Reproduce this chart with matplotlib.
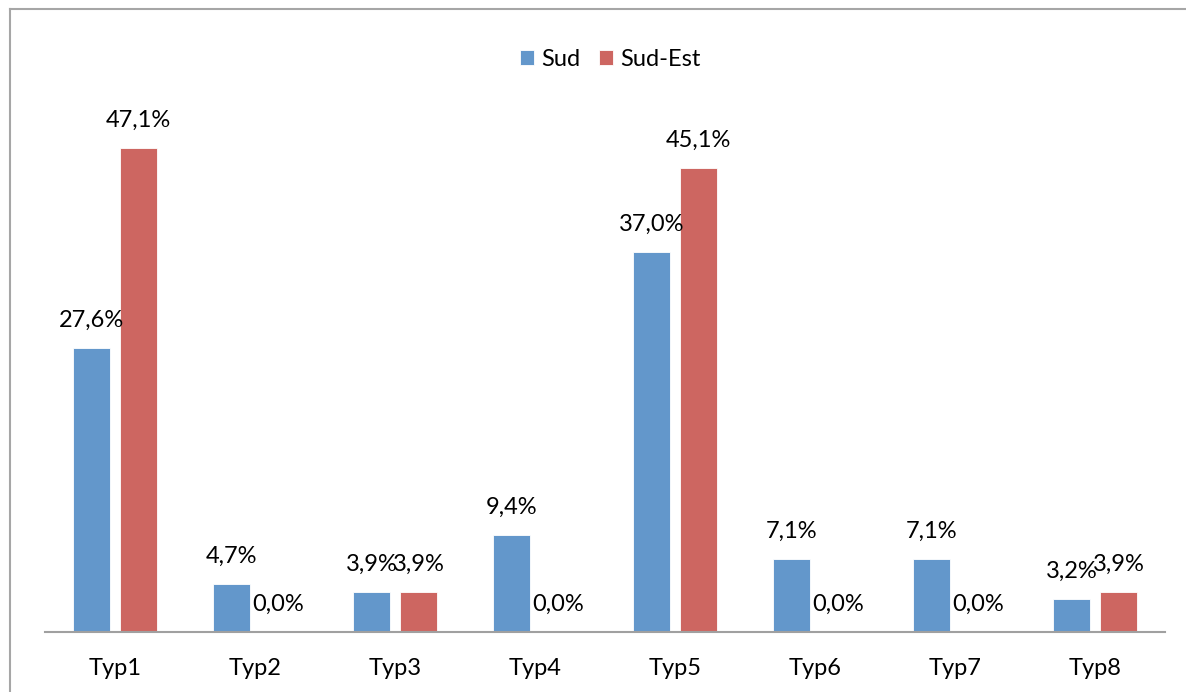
import numpy as np
import matplotlib.pyplot as plt
from matplotlib.lines import Line2D

categories = ['Typ1', 'Typ2', 'Typ3', 'Typ4', 'Typ5', 'Typ6', 'Typ7', 'Typ8']
sud = [27.6, 4.7, 3.9, 9.4, 37.0, 7.1, 7.1, 3.2]
sud_est = [47.1, 0.0, 3.9, 0.0, 45.1, 0.0, 0.0, 3.9]

plt.rcParams['font.family'] = ['Lato', 'DejaVu Sans']

fig = plt.figure(figsize=(11.86, 6.92), dpi=100)

# outer chart frame: only left and top edges are inside the picture
fx, fy = 10 / 1186, 1 - 9 / 692
fig.lines.append(Line2D([fx, fx], [0, fy], transform=fig.transFigure, color='#A6A6A6', lw=1.5))
fig.lines.append(Line2D([fx, 1], [fy, fy], transform=fig.transFigure, color='#A6A6A6', lw=1.5))

ax = fig.add_axes([45 / 1186, 60 / 692, 1120 / 1186, 514 / 692])

x = np.arange(len(categories))
w = 0.264
off = (w + 10 / 140) / 2
b1 = ax.bar(x - off, sud, width=w, color='#6397CB', edgecolor='white', linewidth=0.6, label='Sud')
b2 = ax.bar(x + off, sud_est, width=w, color='#CD6661', edgecolor='white', linewidth=0.6, label='Sud-Est')

def fmt(v):
    return f'{v:.1f}%'.replace('.', ',')

for xi, v in zip(x - off, sud):
    ax.annotate(fmt(v), (xi, v), xytext=(0, 20), textcoords='offset points',
                ha='center', va='center', fontsize=17)
for xi, v in zip(x + off, sud_est):
    ax.annotate(fmt(v), (xi, v), xytext=(0, 20), textcoords='offset points',
                ha='center', va='center', fontsize=17)

ax.set_xlim(-0.5, len(categories) - 0.5)
ax.set_ylim(0, 50)
ax.set_xticks(x)
ax.set_xticklabels(categories, fontsize=17)
ax.tick_params(axis='x', length=0, pad=19)
ax.set_yticks([])
for s in ['top', 'right', 'left']:
    ax.spines[s].set_visible(False)
ax.spines['bottom'].set_color('#A0A0A0')
ax.spines['bottom'].set_linewidth(1.5)

fig.legend(handles=[b1, b2], loc='center', bbox_to_anchor=(610 / 1186, 1 - 59 / 692),
           ncol=2, frameon=False, fontsize=17, handlelength=0.6, handleheight=0.6,
           handletextpad=0.3, columnspacing=0.8)

fig.savefig('out.png', dpi=100)
